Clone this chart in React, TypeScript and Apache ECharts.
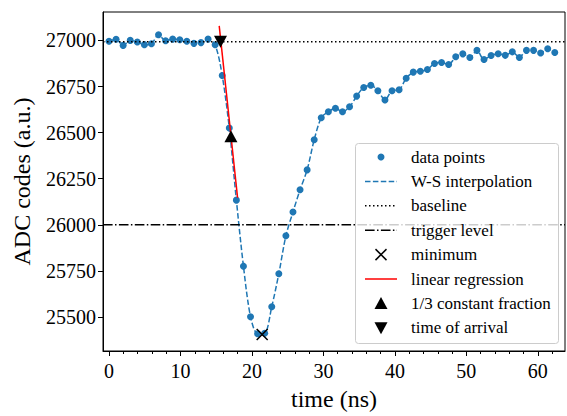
import React, { useEffect, useRef } from "react";
import * as echarts from "echarts";

// ---- data ----
const SAMPLE_PERIOD_NS = 0.99;
const ADC_CODES = [
  26995, 27006, 26973, 27000, 26991, 26977, 26982, 27031, 26998, 27007,
  27004, 26995, 26984, 26988, 27007, 26976, 26810, 26525, 26134, 25776,
  25502, 25410, 25412, 25556, 25735, 25941, 26070, 26190, 26298, 26461,
  26581, 26613, 26632, 26613, 26640, 26698, 26745, 26757, 26727, 26677,
  26727, 26732, 26795, 26828, 26833, 26842, 26875, 26880, 26869, 26911,
  26927, 26907, 26946, 26896, 26918, 26928, 26919, 26938, 26907, 26946,
  26946, 26932, 26955, 26934,
];
const BASELINE = 26993;
const TRIGGER_LEVEL = 26000;
const MINIMUM = [21.43, 25405];
const REGRESSION = [
  [15.42, 27079],
  [17.99, 26147],
];
const CONSTANT_FRACTION = [17.06, 26481];
const TIME_OF_ARRIVAL = [15.6, 26993];

const X_TICKS = [0, 10, 20, 30, 40, 50, 60];
const X_MINOR_TICKS = [
  2, 4, 6, 8, 12, 14, 16, 18, 22, 24, 26, 28, 32, 34, 36, 38, 42, 44, 46, 48,
  52, 54, 56, 58, 62,
];
const Y_TICKS = [25500, 25750, 26000, 26250, 26500, 26750, 27000];
const X_RANGE = [-0.84, 63.8];
const Y_RANGE = [25316, 27154];

const LEGEND_LABELS = [
  "data points",
  "W-S interpolation",
  "baseline",
  "trigger level",
  "minimum",
  "linear regression",
  "1/3 constant fraction",
  "time of arrival",
];

const FONT = "Liberation Serif, Times New Roman, serif";
const BLUE = "#1f77b4";

export default function App() {
  const ref = useRef<HTMLDivElement>(null);

  useEffect(() => {
    if (!ref.current) return;
    const chart = echarts.init(ref.current, undefined, { renderer: "svg" });

    const points = ADC_CODES.map((v, i) => [i * SAMPLE_PERIOD_NS, v]);

    // legend drawn with graphic elements
    const lx = 355,
      ly = 143,
      lw = 203,
      lh = 200;
    const rowGap = 24.4;
    const iconX0 = 365,
      iconX1 = 397,
      iconC = 381,
      textX = 411;
    const legendEls: any[] = [
      {
        type: "rect",
        shape: { x: lx + 0.5, y: ly + 0.5, width: lw, height: lh, r: 3 },
        style: { fill: "rgba(255,255,255,0.8)", stroke: "#cccccc", lineWidth: 1 },
        z: 100,
      },
    ];
    LEGEND_LABELS.forEach((label, i) => {
      const cy = ly + 14 + i * rowGap;
      legendEls.push({
        type: "text",
        x: textX,
        y: cy,
        z: 101,
        style: {
          text: label,
          fill: "#000",
          font: "17px " + FONT,
          verticalAlign: "middle",
          align: "left",
        },
      });
      const lineEl = (dash: any, color: string) => ({
        type: "line",
        z: 101,
        shape: { x1: iconX0, y1: cy, x2: iconX1, y2: cy },
        style: { stroke: color, lineWidth: 1.5, lineDash: dash },
      });
      if (i === 0) {
        legendEls.push({
          type: "circle",
          z: 101,
          shape: { cx: iconC, cy, r: 3.5 },
          style: { fill: BLUE },
        });
      } else if (i === 1) {
        legendEls.push(lineEl([5.5, 2.4], BLUE));
      } else if (i === 2) {
        legendEls.push(lineEl([1.5, 2.5], "#000"));
      } else if (i === 3) {
        legendEls.push(lineEl([9.6, 2.4, 1.5, 2.4], "#000"));
      } else if (i === 4) {
        const s = 5.5;
        legendEls.push({
          type: "line",
          z: 101,
          shape: { x1: iconC - s, y1: cy - s, x2: iconC + s, y2: cy + s },
          style: { stroke: "#000", lineWidth: 1.5 },
        });
        legendEls.push({
          type: "line",
          z: 101,
          shape: { x1: iconC - s, y1: cy + s, x2: iconC + s, y2: cy - s },
          style: { stroke: "#000", lineWidth: 1.5 },
        });
      } else if (i === 5) {
        legendEls.push(lineEl(null, "#ff0000"));
      } else if (i === 6) {
        legendEls.push({
          type: "polygon",
          z: 101,
          shape: {
            points: [
              [iconC, cy - 6.5],
              [iconC - 6.5, cy + 5.5],
              [iconC + 6.5, cy + 5.5],
            ],
          },
          style: { fill: "#000" },
        });
      } else {
        legendEls.push({
          type: "polygon",
          z: 101,
          shape: {
            points: [
              [iconC, cy + 6.5],
              [iconC - 6.5, cy - 5.5],
              [iconC + 6.5, cy - 5.5],
            ],
          },
          style: { fill: "#000" },
        });
      }
    });

    const plain = (v: number) => String(Math.round(v));

    const option: any = {
      animation: false,
      backgroundColor: "#fff",
      textStyle: { fontFamily: FONT },
      grid: {
        left: 103,
        right: 2,
        top: 12,
        bottom: 62,
        show: true,
        borderColor: "#000",
        borderWidth: 1,
        backgroundColor: "transparent",
      },
      xAxis: [
        {
          type: "value",
          min: X_RANGE[0],
          max: X_RANGE[1],
          position: "bottom",
          axisLine: { show: true, onZero: false, lineStyle: { color: "#000", width: 1 } },
          axisTick: {
            show: true,
            customValues: X_TICKS,
            length: 5,
            lineStyle: { color: "#000", width: 1 },
          },
          axisLabel: {
            customValues: X_TICKS,
            formatter: plain,
            color: "#000",
            fontSize: 20,
            fontFamily: FONT,
            margin: 10,
          },
          splitLine: { show: false },
          name: "time (ns)",
          nameLocation: "middle",
          nameGap: 36,
          nameTextStyle: { color: "#000", fontSize: 24, fontFamily: FONT },
        },
        {
          type: "value",
          min: X_RANGE[0],
          max: X_RANGE[1],
          position: "bottom",
          axisLine: { show: false, onZero: false },
          axisTick: {
            show: true,
            customValues: X_MINOR_TICKS,
            length: 3,
            lineStyle: { color: "#000", width: 1 },
          },
          axisLabel: { show: false },
          splitLine: { show: false },
        },
      ],
      yAxis: {
        type: "value",
        min: Y_RANGE[0],
        max: Y_RANGE[1],
        axisLine: { show: true, onZero: false, lineStyle: { color: "#000", width: 1 } },
        axisTick: {
          show: true,
          customValues: Y_TICKS,
          length: 5,
          lineStyle: { color: "#000", width: 1 },
        },
        axisLabel: {
          customValues: Y_TICKS,
          formatter: plain,
          color: "#000",
          fontSize: 20,
          fontFamily: FONT,
          margin: 7,
        },
        splitLine: { show: false },
        name: "ADC codes (a.u.)",
        nameLocation: "middle",
        nameGap: 69,
        nameTextStyle: { color: "#000", fontSize: 24, fontFamily: FONT },
      },
      series: [
        {
          name: "W-S interpolation",
          type: "line",
          data: points,
          symbol: "none",
          smooth: 0.3,
          lineStyle: { color: BLUE, width: 1.5, type: [5.5, 2.4] },
          z: 2,
          silent: true,
        },
        {
          name: "data points",
          type: "scatter",
          data: points,
          symbolSize: 7,
          itemStyle: { color: BLUE, opacity: 1 },
          z: 3,
          silent: true,
        },
        {
          name: "baseline",
          type: "line",
          data: [
            [X_RANGE[0], BASELINE],
            [X_RANGE[1], BASELINE],
          ],
          symbol: "none",
          lineStyle: { color: "#000", width: 1.5, type: [1.5, 2.5] },
          z: 4,
          silent: true,
        },
        {
          name: "trigger level",
          type: "line",
          data: [
            [X_RANGE[0], TRIGGER_LEVEL],
            [X_RANGE[1], TRIGGER_LEVEL],
          ],
          symbol: "none",
          lineStyle: { color: "#000", width: 1.5, type: [9.6, 2.4, 1.5, 2.4] },
          z: 4,
          silent: true,
        },
        {
          name: "minimum",
          type: "scatter",
          data: [MINIMUM],
          symbol: "path://M0,0L10,10M10,0L0,10",
          symbolSize: 11,
          itemStyle: { color: "transparent", borderColor: "#000", borderWidth: 1.5, opacity: 1 },
          z: 5,
          silent: true,
        },
        {
          name: "linear regression",
          type: "line",
          data: REGRESSION,
          symbol: "none",
          lineStyle: { color: "#ff0000", width: 1.5 },
          z: 6,
          silent: true,
        },
        {
          name: "1/3 constant fraction",
          type: "scatter",
          data: [CONSTANT_FRACTION],
          symbol: "triangle",
          symbolSize: [13, 12],
          itemStyle: { color: "#000", opacity: 1 },
          z: 7,
          silent: true,
        },
        {
          name: "time of arrival",
          type: "scatter",
          data: [TIME_OF_ARRIVAL],
          symbol: "triangle",
          symbolRotate: 180,
          symbolSize: [13, 12],
          itemStyle: { color: "#000", opacity: 1 },
          z: 7,
          silent: true,
        },
      ],
      graphic: legendEls,
    };

    chart.setOption(option);
    return () => chart.dispose();
  }, []);

  return (
    <div
      ref={ref}
      style={{ position: "fixed", left: 0, top: 0, width: 567, height: 416 }}
    />
  );
}
